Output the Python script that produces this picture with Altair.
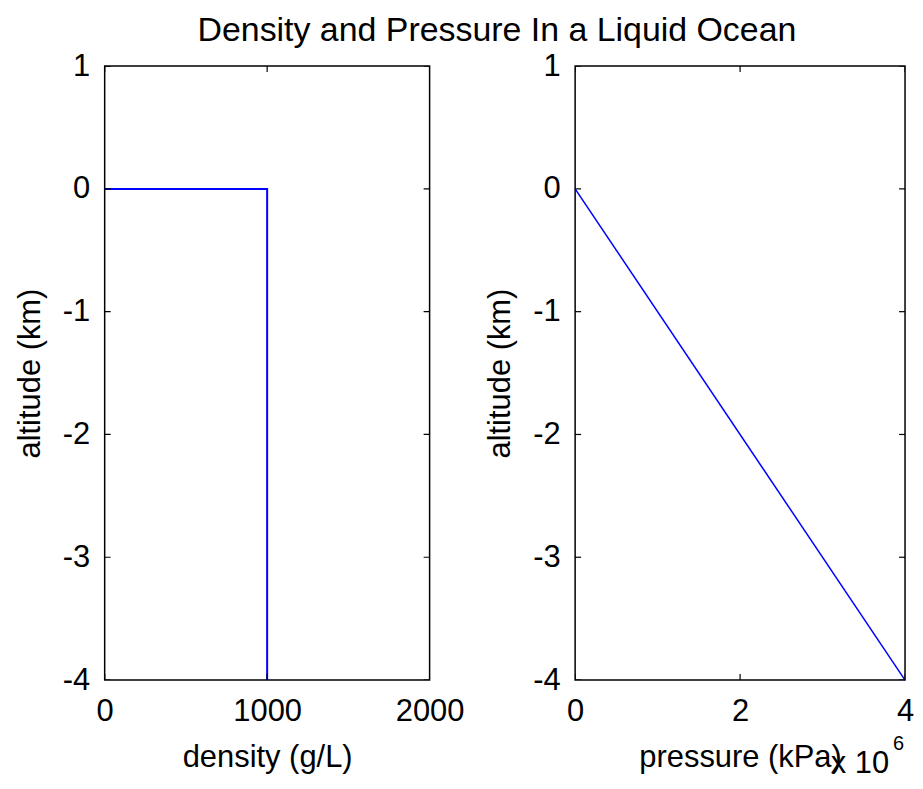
import altair as alt
import pandas as pd

# ---- data ----
density_vals = [0, 1000, 1000]          # g/L
density_alt = [0, 0, -4]                # km
density_order = [0, 1, 2]

pressure_vals = [0, 4.0e6]              # kPa
pressure_alt = [0, -4]                  # km
pressure_order = [0, 1]

y_ticks = [-4, -3, -2, -1, 0, 1]
y_domain = [-4, 1]
density_ticks = [0, 1000, 2000]
density_domain = [0, 2000]
pressure_ticks = [0, 2e6, 4e6]
pressure_domain = [0, 4e6]

FONT = "Liberation Sans"
FS = 31
BLUE = "#0000ff"


def panel(df, xfield, xdomain, xticks, xtitle, label_expr, sw):
    xs = alt.Scale(domain=xdomain, nice=False, zero=False)
    ys = alt.Scale(domain=y_domain, nice=False, zero=False)
    xaxis = alt.Axis(
        title=xtitle, values=xticks, ticks=False, domain=False, grid=False,
        labelFlush=False, labelPadding=17, titlePadding=16, labelExpr=label_expr,
        labelFont=FONT, labelFontSize=FS, labelColor="black",
        titleFont=FONT, titleFontSize=FS, titleFontWeight="normal", titleColor="black",
    )
    yaxis = alt.Axis(
        title="altitude (km)", values=y_ticks, ticks=False, domain=False, grid=False,
        labelPadding=15, titlePadding=16, labelExpr="'' + datum.value",
        labelFont=FONT, labelFontSize=FS, labelColor="black",
        titleFont=FONT, titleFontSize=FS, titleFontWeight="normal", titleColor="black",
    )
    line = alt.Chart(df).mark_line(color=BLUE, strokeWidth=sw).encode(
        x=alt.X(f"{xfield}:Q", scale=xs, axis=xaxis),
        y=alt.Y("alt:Q", scale=ys, axis=yaxis),
        order="o:Q",
    )
    # inward tick marks on all four sides (MATLAB box style)
    xt = pd.DataFrame({"tx": xticks * 2,
                       "ty": [y_domain[0]] * len(xticks) + [y_domain[1]] * len(xticks)})
    yt = pd.DataFrame({"tx": [xdomain[0]] * len(y_ticks) + [xdomain[1]] * len(y_ticks),
                       "ty": y_ticks * 2})
    xtick_marks = alt.Chart(xt).mark_tick(
        orient="vertical", size=12, thickness=1.2, color="black", clip=True, opacity=1).encode(
        x=alt.X("tx:Q", scale=xs, axis=xaxis), y=alt.Y("ty:Q", scale=ys, axis=yaxis))
    ytick_marks = alt.Chart(yt).mark_tick(
        orient="horizontal", size=12, thickness=1.2, color="black", clip=True, opacity=1).encode(
        x=alt.X("tx:Q", scale=xs, axis=xaxis), y=alt.Y("ty:Q", scale=ys, axis=yaxis))
    return line, xtick_marks, ytick_marks, xs, ys, xaxis, yaxis


df1 = pd.DataFrame({"density": density_vals, "alt": density_alt, "o": density_order})
df2 = pd.DataFrame({"pressure": pressure_vals, "alt": pressure_alt, "o": pressure_order})

l1, xt1, yt1, _, _, _, _ = panel(df1, "density", density_domain, density_ticks,
                                 "density (g/L)", "'' + datum.value", 2.0)
left = alt.layer(l1, xt1, yt1).properties(width=326, height=616)

l2, xt2, yt2, xs2, ys2, xa2, ya2 = panel(df2, "pressure", pressure_domain, pressure_ticks,
                                         "pressure (kPa)", "'' + (datum.value / 1000000)", 1.5)

exp_df = pd.DataFrame({"px": [pressure_domain[1]], "py": [y_domain[0]]})
exp_main = alt.Chart(exp_df).mark_text(
    text="x 10", align="right", baseline="alphabetic", dx=-16, dy=93,
    font=FONT, fontSize=FS, color="black").encode(
    x=alt.X("px:Q", scale=xs2, axis=xa2), y=alt.Y("py:Q", scale=ys2, axis=ya2))
exp_sup = alt.Chart(exp_df).mark_text(
    text="6", align="right", baseline="alphabetic", dx=-1, dy=70,
    font=FONT, fontSize=20, color="black").encode(
    x=alt.X("px:Q", scale=xs2, axis=xa2), y=alt.Y("py:Q", scale=ys2, axis=ya2))

right = alt.layer(l2, xt2, yt2, exp_main, exp_sup).properties(width=331, height=616)

chart = alt.hconcat(left, right, spacing=18).properties(
    title=alt.TitleParams(
        "Density and Pressure In a Liquid Ocean", font=FONT, fontSize=34,
        fontWeight="normal", color="black", anchor="middle", offset=1, dx=33),
    padding={"left": 5, "top": 5, "right": 0, "bottom": 0},
).configure(background="white").configure_view(stroke="black", strokeWidth=1.5)

chart.save("out.html", embed_options={"renderer": "svg", "actions": False})
